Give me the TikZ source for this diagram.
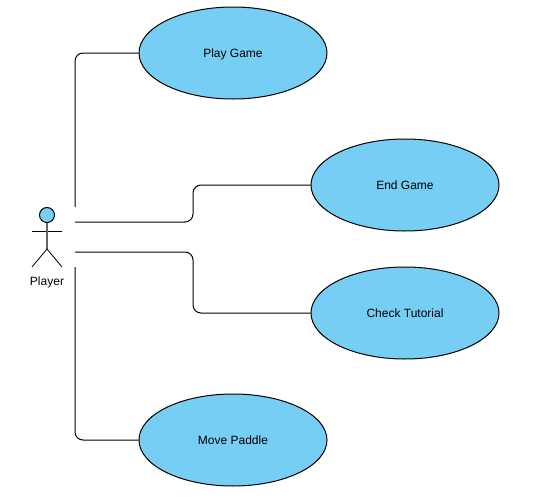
\documentclass[tikz,border=0pt]{standalone}
\usepackage{fontspec}
\setmainfont{Liberation Sans}
\usetikzlibrary{shapes.geometric}
\definecolor{usecaseblue}{RGB}{118,206,245}

\begin{document}
\begin{tikzpicture}[x=1pt,y=-1pt]
            \useasboundingbox (0,0) rectangle (542,499);

            \begin{scope}[every node/.style={fill=usecaseblue,ellipse,draw,line width=1pt,inner sep=0pt,
                          minimum width=188pt,minimum height=92pt,text height=9.5pt,text depth=0pt,
                          font=\fontsize{12}{14}\selectfont}]
                \node (playgame) at (233,53) {Play Game};
                \node (endgame) at (405,185) {End Game};
                \node (tutorial) at (405,313) {Check Tutorial};
                \node (paddle) at (233,440) {Move Paddle};
            \end{scope}

            % the player
            \node (head) [fill=usecaseblue,circle,draw,line width=1pt,inner sep=0pt,minimum size=15pt] at (47,215) {};
            \coordinate (armL) at (32,231);
            \coordinate (armR) at (62,231);
            \coordinate (hip) at (47,249);
            \coordinate (footL) at (32,267);
            \coordinate (footR) at (62,267);
            \node (player) [font=\fontsize{12}{14}\selectfont] at (47,282) {Player};
            \draw [line width=1pt] (armL) -- (armR);
            \draw [line width=1.5pt,black!60] (head) -- (hip);
            \draw [line width=0.8pt] (footL) -- (hip) -- (footR);

            % free ends next to the player
            \coordinate (P1) at (75,207);
            \coordinate (P2) at (75,222);
            \coordinate (P3) at (75,252);
            \coordinate (P4) at (75,267);
            \coordinate (B2) at (193,222);
            \coordinate (B3) at (193,252);

            \begin{scope}[every path/.style={draw=black,line width=1pt,rounded corners=8pt}]
                \path (P1) |- (playgame.west);
                \path (P2) -- (B2) |- (endgame.west);
                \path (P3) -- (B3) |- (tutorial.west);
                \path (P4) |- (paddle.west);
            \end{scope}
        \end{tikzpicture}
\end{document}
